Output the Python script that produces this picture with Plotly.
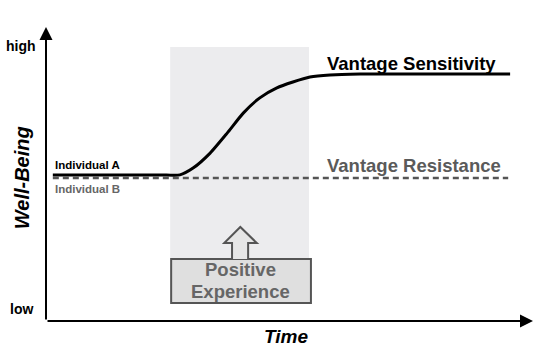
import plotly.graph_objects as go

# ---- data (time 0..100, well-being 0..100) ----
time_a = [1.4, 23.4, 27.5, 30.2, 33.7, 37.2, 40.5, 43.9, 47.4, 50.7, 54.2, 58.3, 64.5, 95.3]
wellbeing_a = [49.7, 49.7, 49.7, 52.0, 57.1, 63.9, 70.7, 75.9, 79.3, 81.3, 83.0, 83.7, 84.0, 84.0]
time_b = [1.4, 94.9]
wellbeing_b = [48.6, 48.6]
experience_window = [25.5, 54.0]
experience_height = [6.1, 93.2]

FONT = "Liberation Sans"

fig = go.Figure()
# shaded window
fig.add_shape(type="rect", x0=experience_window[0], x1=experience_window[1],
              y0=experience_height[0], y1=experience_height[1],
              fillcolor="#ececee", line=dict(width=0), layer="below")
# box
fig.add_shape(type="rect", x0=25.7, x1=54.4, y0=6.1, y1=21.1,
              fillcolor="#dfdfdf", line=dict(color="#555555", width=2))
# hollow up arrow
fig.add_shape(type="path",
              path="M 38.2 21.1 L 38.2 26.5 L 36.6 26.5 L 39.9 32.0 L 43.3 26.5 L 41.5 26.5 L 41.5 21.1",
              fillcolor="#e6e6e6", line=dict(color="#555555", width=2))

fig.add_trace(go.Scatter(x=time_b, y=wellbeing_b, mode="lines",
                         line=dict(color="#555555", width=2.5, dash="6px,4px"), hoverinfo="skip"))
fig.add_trace(go.Scatter(x=time_a, y=wellbeing_a, mode="lines",
                         line=dict(color="black", width=3, shape="spline", smoothing=0.6), hoverinfo="skip"))

# axes with arrows
fig.add_annotation(x=0, y=100, ax=0, ay=0, xref="x", yref="y", axref="x", ayref="y",
                   showarrow=True, arrowhead=2, arrowsize=1.3, arrowwidth=2, arrowcolor="black", text="")
fig.add_annotation(x=100, y=0, ax=0, ay=0, xref="x", yref="y", axref="x", ayref="y",
                   showarrow=True, arrowhead=2, arrowsize=1.3, arrowwidth=2, arrowcolor="black", text="")

def txt(x, y, s, size, color="black", italic=False, angle=0, xanchor="center"):
    t = "<b>" + s + "</b>"
    if italic:
        t = "<i>" + t + "</i>"
    fig.add_annotation(x=x, y=y, xref="x", yref="y", text=t, showarrow=False,
                       font=dict(family=FONT, size=size, color=color),
                       textangle=angle, xanchor=xanchor, yanchor="middle")

txt(-5.2, 93.5, "high", 14)
txt(-5.0, 4.1, "low", 14)
txt(-4.9, 48.6, "Well-Being", 20, italic=True, angle=-90)
txt(49.3, -5.4, "Time", 19, italic=True)
txt(1.4, 52.9, "Individual A", 11.5, xanchor="left")
txt(1.4, 45.0, "Individual B", 11.5, color="#666666", xanchor="left")
txt(57.3, 87.5, "Vantage Sensitivity", 18.5, xanchor="left")
txt(57.3, 53.0, "Vantage Resistance", 18.5, color="#5a5a5a", xanchor="left")
txt(40.0, 17.4, "Positive", 18.5, color="#666666")
txt(40.0, 9.9, "Experience", 18.5, color="#666666")

fig.update_layout(width=550, height=351, margin=dict(l=0, r=0, t=0, b=0),
                  plot_bgcolor="white", paper_bgcolor="white", showlegend=False)
fig.update_xaxes(range=[-9.446, 103.49], visible=False)
fig.update_yaxes(range=[-10.204, 109.18], visible=False)
fig.write_html("out.html")
